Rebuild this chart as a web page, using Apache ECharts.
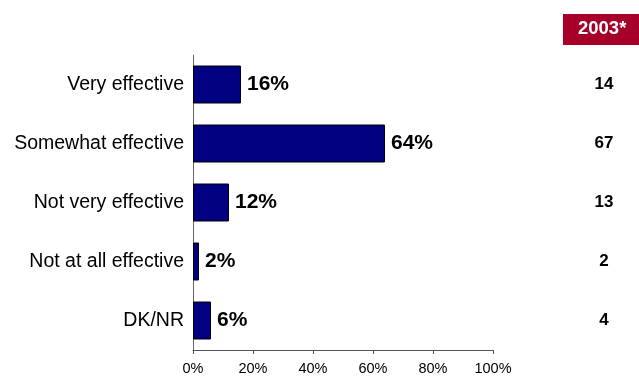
<!DOCTYPE html>
<html>
<head>
<meta charset="utf-8">
<script src="https://cdn.jsdelivr.net/npm/echarts@6/dist/echarts.min.js"></script>
<style>
  html, body { margin: 0; padding: 0; background: #fff; }
  #chart { width: 639px; height: 377px; }
</style>
</head>
<body>
<div id="chart"></div>
<script>
// Survey responses: how effective, current wave vs. 2003
const categories = ['Very effective', 'Somewhat effective', 'Not very effective', 'Not at all effective', 'DK/NR'];
const currentValues = [16, 64, 12, 2, 6];
const values2003 = [14, 67, 13, 2, 4];
const xTicks = [0, 20, 40, 60, 80, 100];
const headerLabel = '2003*';

const chart = echarts.init(document.getElementById('chart'));
const font = 'Liberation Sans, Arial, sans-serif';

chart.setOption({
  animation: false,
  grid: { left: 193, right: 146, top: 55, bottom: 27, containLabel: false },
  xAxis: {
    type: 'value',
    min: xTicks[0],
    max: xTicks[xTicks.length - 1],
    interval: 20,
    axisLine: { show: true, lineStyle: { color: '#555', width: 1 } },
    axisTick: { show: true, length: 4, lineStyle: { color: '#555' } },
    splitLine: { show: false },
    axisLabel: { formatter: '{value}%', color: '#000', fontFamily: font, fontSize: 14.5, margin: 11 }
  },
  yAxis: [
    {
      type: 'category',
      data: categories,
      inverse: true,
      axisLine: { show: true, lineStyle: { color: '#666', width: 1 } },
      axisTick: { show: false },
      axisLabel: { color: '#000', fontFamily: font, fontSize: 19.5, margin: 9, padding: [4, 0, 0, 0] }
    },
    {
      type: 'category',
      data: values2003.map(String),
      inverse: true,
      position: 'right',
      axisLine: { show: false },
      axisTick: { show: false },
      axisLabel: { color: '#000', fontFamily: font, fontSize: 17, fontWeight: 'bold', margin: 111, align: 'center', padding: [3, 0, 0, 0] }
    }
  ],
  graphic: [
    {
      type: 'rect',
      left: 563, top: 14,
      shape: { width: 76, height: 31 },
      style: { fill: '#A6002A' }
    },
    {
      type: 'text',
      left: 578, top: 19,
      style: { text: headerLabel, fill: '#fff', font: 'bold 18.5px ' + font }
    }
  ],
  series: [
    {
      type: 'bar',
      data: currentValues,
      barWidth: 38,
      itemStyle: { color: '#000080', borderColor: '#000', borderWidth: 1 },
      label: {
        show: true,
        position: 'right',
        distance: 6,
        formatter: '{c}%',
        color: '#000',
        fontFamily: font,
        fontSize: 21,
        fontWeight: 'bold',
        padding: [3, 0, 0, 0]
      }
    }
  ]
});
</script>
</body>
</html>
